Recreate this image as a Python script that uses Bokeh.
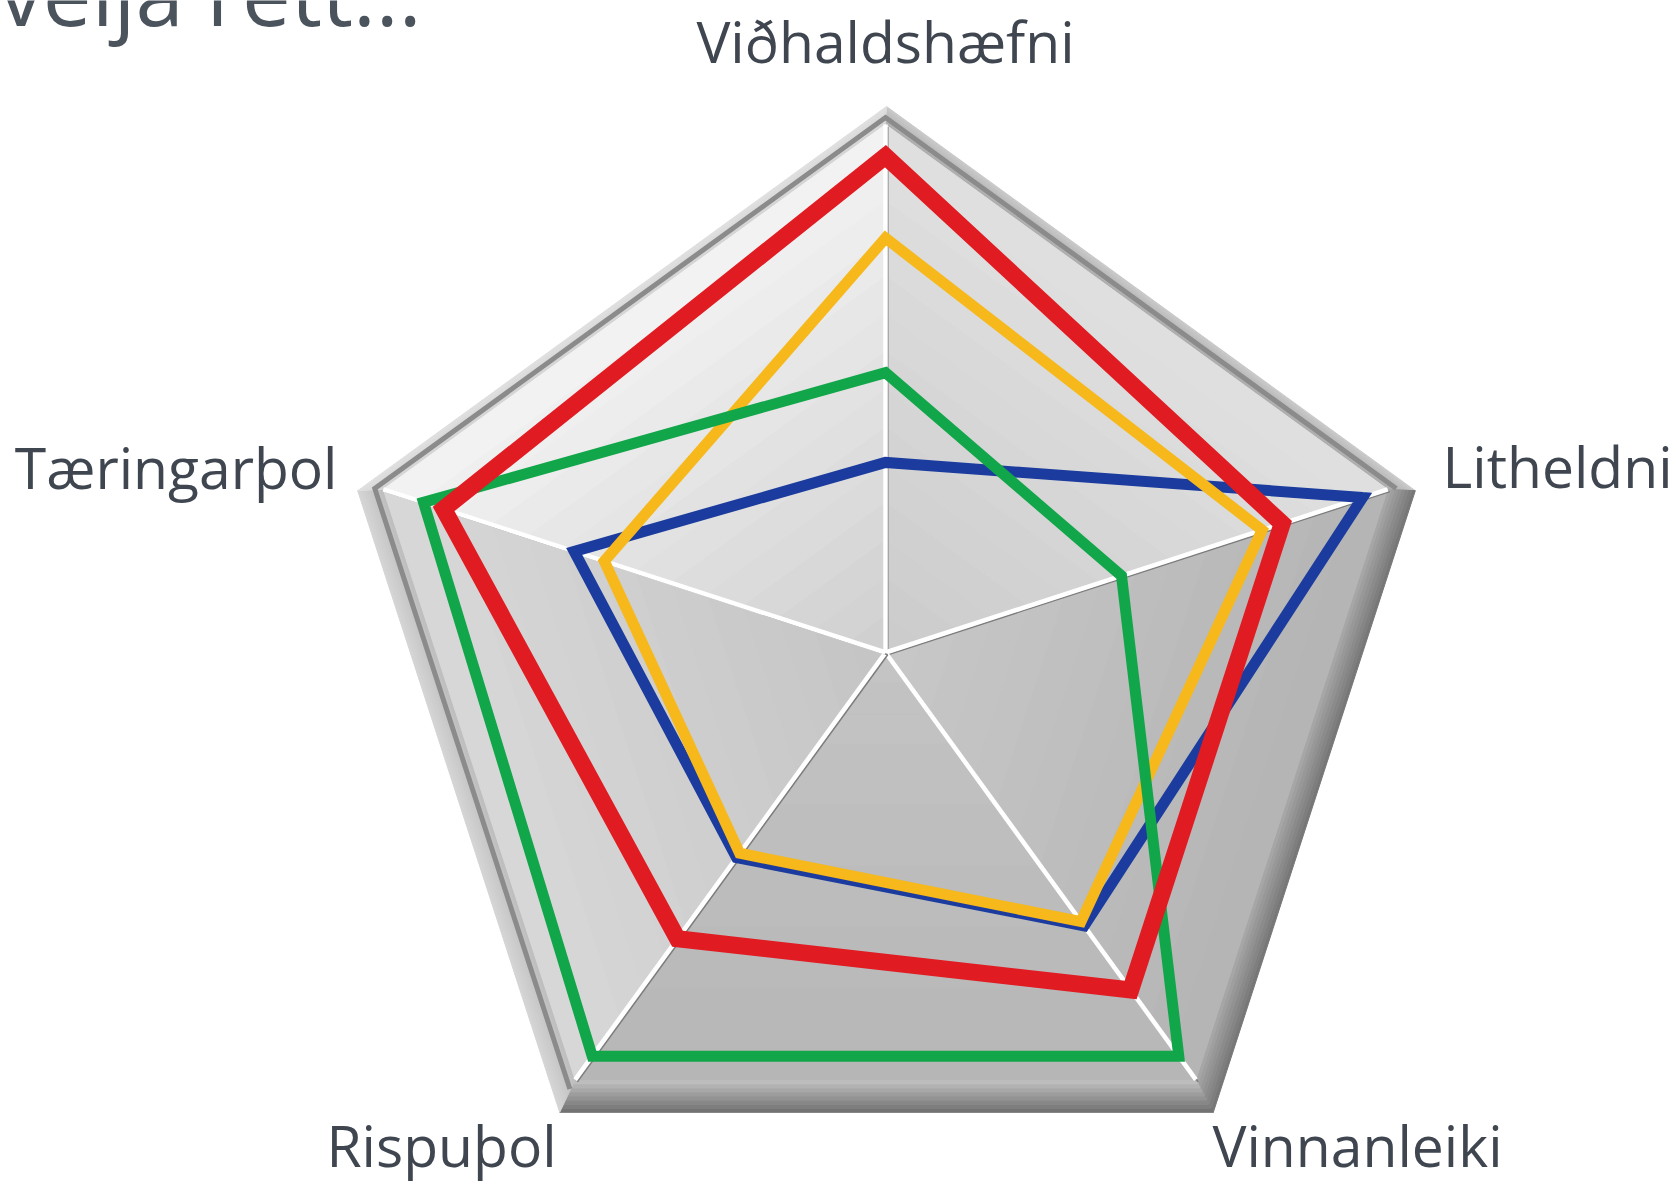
import numpy as np
from bokeh.plotting import figure
from bokeh.models import Range1d
from bokeh.core.properties import value
from bokeh.embed import file_html
from bokeh.resources import INLINE

# ---------------- data ----------------
categories = ["Viðhaldshæfni", "Litheldni", "Vinnanleiki", "Rispuþol", "Tæringarþol"]
scale_max = 10
blue_vals = [3.6, 9.5, 6.4, 4.8, 6.2]
yellow_vals = [7.85, 7.5, 6.3, 4.7, 5.6]
green_vals = [5.3, 4.7, 9.45, 9.45, 9.2]
red_vals = [9.4, 7.9, 7.9, 6.7, 8.8]
title_fragment = "velja rétt..."

# ---------------- figure ----------------
W, H = 1677, 1186
p = figure(width=W, height=H, x_range=Range1d(0, W), y_range=Range1d(1186 - H, 1186),
           output_backend="svg", toolbar_location=None, min_border=0,
           x_axis_type=None, y_axis_type=None)
p.grid.visible = False
p.outline_line_color = None
p.background_fill_color = "white"
p.border_fill_color = "white"

CX, CY, R = 885.0, 534.0, 528.0
OCX, OCY, RO = 886.0, 524.0, 556.0
angles = np.deg2rad([90, 18, -54, -126, 162])


def pt(cx, cy, r, a):
    return cx + r * np.cos(a), cy + r * np.sin(a)


inner = [pt(CX, CY, R, a) for a in angles]
outer = [pt(OCX, OCY, RO, a) for a in angles]


def hx(c):
    return "#%02x%02x%02x" % tuple(int(round(v)) for v in c)


def lerp_col(c0, c1, t):
    a = np.array([int(c0[i:i + 2], 16) for i in (1, 3, 5)], float)
    b = np.array([int(c1[i:i + 2], 16) for i in (1, 3, 5)], float)
    return hx(a + (b - a) * t)


def lerp(p0, p1, t):
    return (p0[0] + (p1[0] - p0[0]) * t, p0[1] + (p1[1] - p0[1]) * t)


xs, ys, cols = [], [], []

# bevel facets (outer colour -> inner colour): top-right, right-lower, bottom, left-lower, top-left
bevel_cols = [("#cbcbcb", "#acacac"), ("#747474", "#a9a9a9"), ("#6e6e6e", "#c2c2c2"),
              ("#d6d6d6", "#bdbdbd"), ("#e0e0e0", "#d4d4d4")]
NB = 8
for i in range(5):
    j = (i + 1) % 5
    for b in range(NB):
        t0, t1 = b / NB, (b + 1) / NB
        a0 = lerp(outer[i], inner[i], t0)
        a1 = lerp(outer[j], inner[j], t0)
        b1 = lerp(outer[j], inner[j], t1)
        b0 = lerp(outer[i], inner[i], t1)
        xs.append([a0[0], a1[0], b1[0], b0[0]])
        ys.append([a0[1], a1[1], b1[1], b0[1]])
        cols.append(lerp_col(bevel_cols[i][0], bevel_cols[i][1], (b + 0.5) / NB))

# inner facets (centre colour -> edge colour)
tri_cols = [("#cbcbcb", "#e0e0e0"), ("#c8c8c8", "#b4b4b4"), ("#c4c4c4", "#b6b6b6"),
            ("#c4c4c4", "#d8d8d8"), ("#cfcfcf", "#f3f3f3")]
NT = 14
C = (CX, CY)
for i in range(5):
    j = (i + 1) % 5
    for b in range(NT):
        f0, f1 = b / NT, (b + 1) / NT
        a0 = lerp(C, inner[i], f0)
        a1 = lerp(C, inner[j], f0)
        b1 = lerp(C, inner[j], f1)
        b0 = lerp(C, inner[i], f1)
        xs.append([a0[0], a1[0], b1[0], b0[0]])
        ys.append([a0[1], a1[1], b1[1], b0[1]])
        cols.append(lerp_col(tri_cols[i][0], tri_cols[i][1], (b + 0.5) / NT))

p.patches(xs, ys, fill_color=cols, line_color=cols, line_width=1)

# dark rim line on the upper / left edges
rim = [pt(CX, CY - 2, R + 9, a) for a in angles]
order = [3, 4, 0, 1]
p.line([rim[k][0] for k in order], [rim[k][1] for k in order], line_color="#8b8b8b",
       line_width=5, line_join="miter")

# spokes
for k in range(5):
    ex, ey = inner[k]
    p.line([CX + 2.2, ex + 2.2], [CY - 2.2, ey - 2.2], line_color="#7d7d7d", line_width=1.6)
    p.line([CX, ex], [CY, ey], line_color="white", line_width=4.5)


# data series
def series_xy(vals):
    px = [CX + (v / scale_max) * R * np.cos(a) for v, a in zip(vals, angles)]
    py = [CY + (v / scale_max) * R * np.sin(a) for v, a in zip(vals, angles)]
    return px + [px[0]], py + [py[0]]


for vals, col, lw in [(blue_vals, "#1b3c9e", 11), (yellow_vals, "#f6b81a", 11),
                      (green_vals, "#12a64a", 11), (red_vals, "#e11b22", 17)]:
    sx, sy = series_xy(vals)
    p.line(sx + [sx[1]], sy + [sy[1]], line_color=col, line_width=lw, line_join="miter")

# category labels (y given as page baseline; y_offset compensates the renderer's baseline shift)
font = value("Open Sans")
lab_col = "#3f4650"
FS = 57
off = -round(0.42 * FS)


def label(x, page_y, txt, align):
    p.text(x=[x], y=[1186 - page_y], text=[txt], text_font=font, text_font_size=f"{FS}px",
           text_color=lab_col, text_align=align, text_baseline="alphabetic", y_offset=off)


label(885, 64, categories[0], "center")
label(1442, 489, categories[1], "left")
label(1357, 1168, categories[2], "center")
label(441, 1168, categories[3], "center")
label(337, 490, categories[4], "right")

# title fragment cut off at the top edge (as in the source image)
TS = 87
p.text(x=[421], y=[1186 - 28], text=[title_fragment], text_font=font, text_font_size=f"{TS}px",
       text_color="#4b535d", text_align="right", text_baseline="alphabetic",
       y_offset=-round(0.42 * TS))

open("out.html", "w").write(file_html(p, INLINE))
